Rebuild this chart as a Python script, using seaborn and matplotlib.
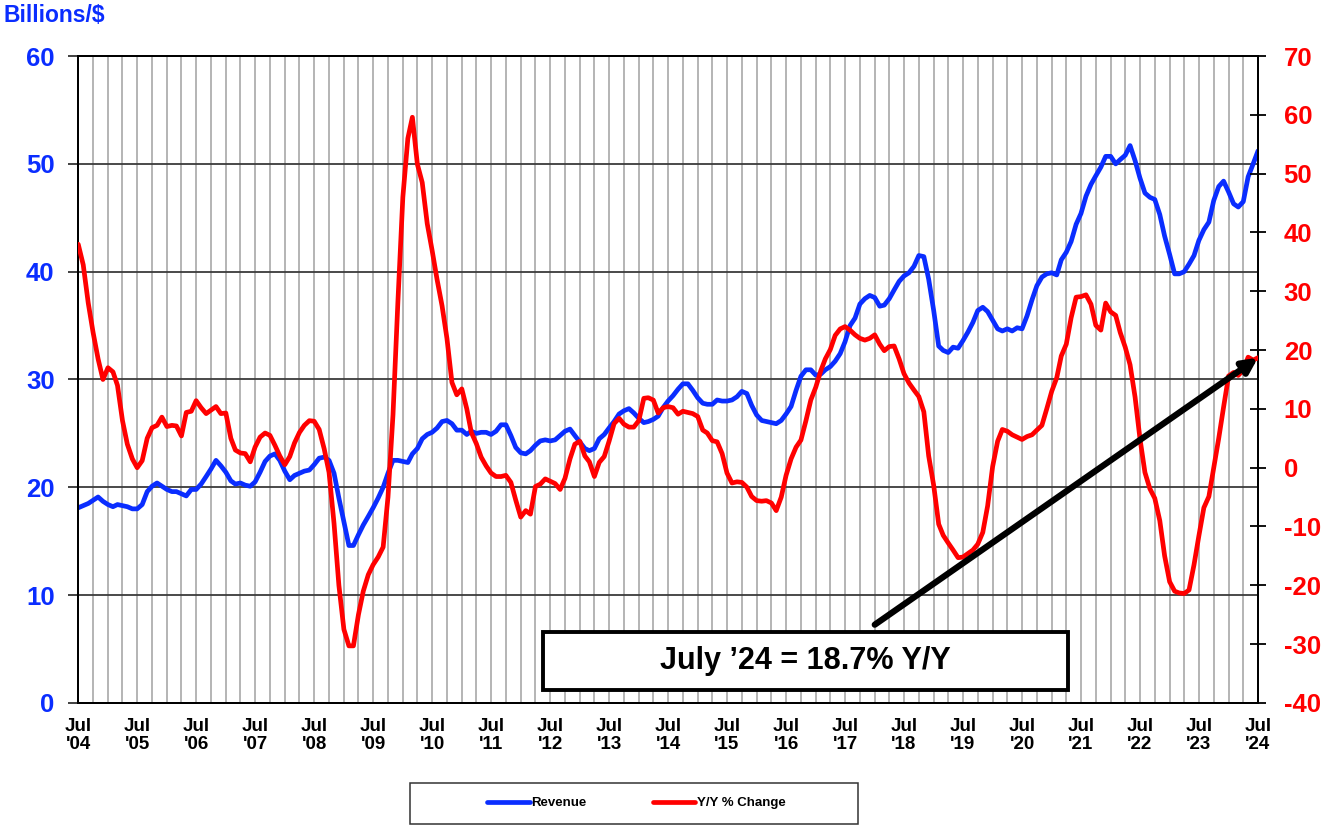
import pandas as pd
import numpy as np
import matplotlib
matplotlib.use("Agg")
import matplotlib.pyplot as plt
import matplotlib.dates as mdates
from matplotlib.patches import Rectangle
import seaborn as sns

# -----------------------------
# Data (monthly, Jul 2004 - Jul 2024)
start_month = "2004-07-01"

revenue = [
    18.1, 18.3, 18.5, 18.8, 19.1, 18.7, 18.4, 18.2, 18.4, 18.3, 18.2, 18.0,
    18.0, 18.4, 19.6, 20.1, 20.4, 20.1, 19.8, 19.6, 19.6, 19.4, 19.2, 19.8,
    19.8, 20.3, 21.0, 21.7, 22.5, 22.0, 21.4, 20.6, 20.3, 20.4, 20.2, 20.1,
    20.5, 21.4, 22.4, 22.9, 23.1, 22.5, 21.5, 20.7, 21.1, 21.3, 21.5, 21.6,
    22.1, 22.7, 22.8, 22.5, 21.3, 19.0, 16.8, 14.6, 14.6, 15.6, 16.5, 17.3,
    18.1, 19.0, 20.0, 21.3, 22.5, 22.5, 22.4, 22.3, 23.1, 23.6, 24.5, 24.9,
    25.1, 25.5, 26.1, 26.2, 25.9, 25.3, 25.3, 24.9, 25.2, 25.0, 25.1, 25.1,
    24.9, 25.2, 25.8, 25.8, 24.8, 23.7, 23.2, 23.1, 23.4, 23.9, 24.3, 24.4,
    24.3, 24.4, 24.8, 25.2, 25.4, 24.8, 24.2, 23.6, 23.4, 23.6, 24.5, 24.9,
    25.5, 26.1, 26.8, 27.1, 27.3, 26.9, 26.4, 26.0, 26.1, 26.3, 26.6, 27.4,
    28.0, 28.5, 29.1, 29.6, 29.6, 29.0, 28.3, 27.8, 27.7, 27.7, 28.1, 28.0,
    28.0, 28.1, 28.4, 28.9, 28.7, 27.6, 26.7, 26.2, 26.1, 26.0, 25.9, 26.2,
    26.8, 27.5, 29.0, 30.3, 30.9, 30.9, 30.4, 30.5, 30.9, 31.2, 31.7, 32.4,
    33.5, 35.0, 35.7, 37.0, 37.5, 37.8, 37.6, 36.8, 36.9, 37.5, 38.3, 39.1,
    39.6, 39.9, 40.5, 41.5, 41.4, 39.3, 36.4, 33.1, 32.7, 32.5, 33.0, 32.9,
    33.6, 34.4, 35.3, 36.4, 36.7, 36.3, 35.5, 34.7, 34.5, 34.7, 34.5, 34.8,
    34.7, 35.9, 37.4, 38.7, 39.5, 39.8, 39.9, 39.7, 41.1, 41.8, 42.8, 44.4,
    45.4, 47.0, 48.1, 48.9, 49.7, 50.7, 50.7, 50.0, 50.4, 50.8, 51.7, 50.3,
    48.7, 47.3, 46.9, 46.7, 45.3, 43.3, 41.6, 39.8, 39.8, 40.0, 40.7, 41.5,
    42.9, 43.9, 44.6, 46.6, 47.9, 48.4, 47.4, 46.3, 46.0, 46.5, 48.8, 50.0,
    51.2,
]

yoy_change = [
    38.0, 34.5, 28.0, 23.0, 18.5, 15.0, 17.0, 16.3, 14.0, 8.0, 4.0, 1.5,
    0.0, 1.2, 5.0, 6.8, 7.2, 8.6, 7.0, 7.2, 7.1, 5.4, 9.4, 9.6,
    11.4, 10.2, 9.2, 9.8, 10.4, 9.2, 9.3, 5.0, 3.0, 2.5, 2.4, 1.0,
    3.5, 5.2, 5.9, 5.5, 3.8, 2.0, 0.5, 1.9, 4.2, 6.0, 7.2, 8.0,
    7.9, 6.5, 3.2, -0.8, -9.5, -20.0, -27.5, -30.3, -30.3, -25.0, -21.0, -18.2,
    -16.5, -15.2, -13.5, -5.0, 9.0, 28.0, 46.0, 56.0, 59.6, 51.6, 48.5, 41.5,
    37.0, 32.0, 27.5, 22.0, 14.5, 12.4, 13.4, 10.0, 6.0, 4.1, 1.8, 0.3,
    -0.9, -1.5, -1.5, -1.3, -2.5, -5.5, -8.4, -7.3, -7.9, -3.2, -2.8, -1.9,
    -2.3, -2.7, -3.7, -1.8, 1.5, 4.0, 4.5, 2.0, 1.0, -1.5, 0.9, 1.9,
    4.5, 7.5, 8.4, 7.4, 6.9, 6.9, 8.0, 11.8, 11.9, 11.5, 9.3, 10.2,
    10.4, 10.2, 9.1, 9.6, 9.4, 9.2, 8.7, 6.4, 5.9, 4.6, 4.4, 2.4,
    -0.9, -2.6, -2.4, -2.5, -3.3, -4.9, -5.6, -5.7, -5.6, -6.0, -7.3, -5.0,
    -1.3, 1.5, 3.5, 4.7, 8.0, 11.5, 13.7, 16.5, 18.5, 20.1, 22.5, 23.6,
    24.0, 23.4, 22.6, 22.0, 21.7, 22.0, 22.6, 21.0, 19.9, 20.6, 20.7, 18.5,
    16.0, 14.4, 13.2, 12.1, 9.5, 2.0, -3.0, -9.6, -11.5, -12.8, -14.0, -15.3,
    -15.2, -14.6, -14.0, -13.0, -11.0, -6.5, 0.2, 4.5, 6.5, 6.2, 5.6, 5.2,
    4.8, 5.3, 5.6, 6.4, 7.2, 10.0, 13.0, 15.3, 19.0, 21.0, 25.5, 29.0,
    29.1, 29.4, 27.8, 24.2, 23.4, 28.0, 26.5, 25.9, 23.0, 20.5, 17.5, 12.0,
    5.0, -0.8, -3.6, -5.2, -9.0, -15.0, -19.4, -21.0, -21.3, -21.4, -20.8, -16.5,
    -11.6, -6.8, -4.9, 0.0, 5.0, 10.3, 15.6, 16.2, 15.7, 16.6, 18.8, 18.3,
    18.7,
]

left_ticks = [0, 10, 20, 30, 40, 50, 60]
right_ticks = [-40, -30, -20, -10, 0, 10, 20, 30, 40, 50, 60, 70]
callout_text = "July \u201924 = 18.7% Y/Y"

months = pd.date_range(start_month, periods=len(revenue), freq="MS")
df = pd.DataFrame({"Month": months, "Revenue": revenue, "Y/Y % Change": yoy_change})

# -----------------------------
sns.set_style("white")
plt.rcParams["font.family"] = ["Liberation Sans", "DejaVu Sans"]
plt.rcParams["font.weight"] = "bold"
plt.rcParams["axes.unicode_minus"] = False
plt.rcParams["text.color"] = "black"

BLUE = "#0a2dff"
RED = "#ff0000"

fig = plt.figure(figsize=(13.26, 8.25), dpi=100)
ax = fig.add_axes([0.0590, 0.148, 0.8897, 0.784])
ax2 = ax.twinx()

sns.lineplot(data=df, x="Month", y="Revenue", ax=ax, color=BLUE, lw=3.4,
             label="Revenue", legend=False, zorder=3)
sns.lineplot(data=df, x="Month", y="Y/Y % Change", ax=ax2, color=RED, lw=3.4,
             label="Y/Y % Change", legend=False, zorder=3)

ax.set_xlim(months[0], months[-1])
ax.set_ylim(0, 60)
ax2.set_ylim(-40, 70)
ax.set_xlabel("")
ax.set_ylabel("")
ax2.set_ylabel("")

# x axis: Jul labels each year, grid each quarter
year_ticks = months[::12]
ax.set_xticks(year_ticks)
ax.set_xticklabels([f"Jul\n'{d:%y}" for d in year_ticks], fontsize=13.5,
                   fontweight="bold", linespacing=1.1, color="black")
ax.xaxis.set_minor_locator(mdates.MonthLocator(bymonth=[1, 4, 7, 10]))
ax.tick_params(axis="x", which="both", length=0, pad=11)

ax.set_yticks(left_ticks)
ax.tick_params(axis="y", direction="out", length=7, width=1.3, color="#333333",
               labelcolor=BLUE, labelsize=18.5, pad=10)
for t in ax.get_yticklabels():
    t.set_fontweight("bold")

ax2.set_yticks(right_ticks)
ax2.tick_params(axis="y", direction="inout", length=12, width=1.3, color="black",
                labelcolor=RED, labelsize=18.5, pad=12.5)
for t in ax2.get_yticklabels():
    t.set_fontweight("bold")

ax.grid(True, axis="x", which="both", color="#a8a8a8", lw=1.2)
ax.grid(True, axis="y", which="major", color="#3a3a3a", lw=1.3)
ax.set_axisbelow(True)

for a in (ax, ax2):
    for side in ["left", "right", "bottom", "top"]:
        a.spines[side].set_color("black")
        a.spines[side].set_linewidth(1.4)
        a.spines[side].set_visible(True)

fig.text(0.003, 0.981, "Billions/$", color=BLUE, fontsize=16.5, fontweight="bold",
         ha="left", va="center")

# arrow to the latest value
ax2.annotate("", xy=(months[-1], yoy_change[-1]), xytext=(months[162], -26.7),
             arrowprops=dict(arrowstyle="-|>", color="black", lw=4.5,
                             mutation_scale=22, shrinkA=0, shrinkB=0),
             zorder=6, annotation_clip=False)

# callout box
fig.add_artist(Rectangle((0.4095, 0.1636), 0.3959, 0.0703, transform=fig.transFigure,
                         facecolor="white", edgecolor="black", lw=2.8, zorder=5))
fig.text(0.6075, 0.1985, callout_text, fontsize=22, fontweight="bold", color="black",
         ha="center", va="center", zorder=6)

# legend
fig.add_artist(Rectangle((0.3092, 0.0015), 0.3379, 0.0492, transform=fig.transFigure,
                         facecolor="white", edgecolor="#333333", lw=1.1, zorder=4))
handles = [ax.lines[0], ax2.lines[0]]
leg = fig.legend(handles, ["Revenue", "Y/Y % Change"], loc="center",
                 bbox_to_anchor=(0.480, 0.0265), ncol=2, frameon=False,
                 prop={"size": 9.5, "weight": "bold"}, handlelength=3.2,
                 handletextpad=0.15, columnspacing=5.0, labelcolor="black")
leg.set_zorder(6)

fig.savefig("out.png", dpi=100)
plt.close(fig)
